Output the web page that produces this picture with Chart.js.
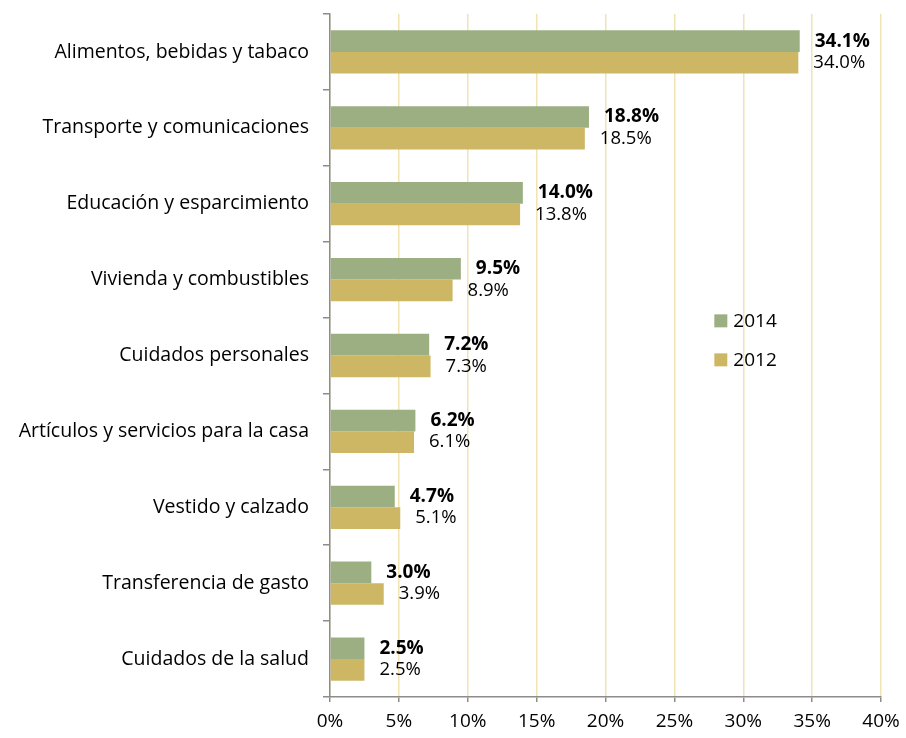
<!DOCTYPE html>
<html>
<head>
<meta charset="utf-8">
<script src="https://cdn.jsdelivr.net/npm/chart.js@4"></script>
<style>
  body { margin: 0; background: #fff; }
  #wrap { width: 906px; height: 738px; }
</style>
</head>
<body>
<div id="wrap"><canvas id="gastoChart"></canvas></div>
<script>
// categorias y valores (%)
var categorias = [
    'Alimentos, bebidas y tabaco',
    'Transporte y comunicaciones',
    'Educación y esparcimiento',
    'Vivienda y combustibles',
    'Cuidados personales',
    'Artículos y servicios para la casa',
    'Vestido y calzado',
    'Transferencia de gasto',
    'Cuidados de la salud'
];
var valores2014 = [34.1, 18.8, 14.0, 9.5, 7.2, 6.2, 4.7, 3.0, 2.5];
var valores2012 = [34.0, 18.5, 13.8, 8.9, 7.3, 6.1, 5.1, 3.9, 2.5];
var ticksX = [0, 5, 10, 15, 20, 25, 30, 35, 40];

var fuente = '"Open Sans", Lato, sans-serif';

// etiquetas de valor al final de cada barra
var etiquetasPlugin = {
    id: 'etiquetas',
    afterDatasetsDraw: function(chart) {
        var ctx = chart.ctx;
        ctx.save();
        ctx.textBaseline = 'middle';
        ctx.textAlign = 'left';
        ctx.fillStyle = '#000';
        chart.data.datasets.forEach(function(ds, i) {
            var meta = chart.getDatasetMeta(i);
            ctx.font = (i === 0 ? 'bold 19px ' : '18.5px ') + fuente;
            meta.data.forEach(function(bar, j) {
                ctx.fillText(ds.data[j].toFixed(1) + '%', bar.x + 15, bar.y);
            });
        });
        ctx.restore();
    }
};

// leyenda dentro del area del grafico
var leyendaPlugin = {
    id: 'leyenda',
    afterDraw: function(chart) {
        var ctx = chart.ctx;
        var x = chart.scales.x.getPixelForValue(27.9);
        var y0 = chart.scales.y.getPixelForValue(3.55);
        ctx.save();
        ctx.font = '19px ' + fuente;
        ctx.textBaseline = 'middle';
        chart.data.datasets.forEach(function(ds, i) {
            var y = y0 + i * 39;
            ctx.fillStyle = ds.backgroundColor;
            ctx.fillRect(x, y - 7, 13, 13);
            ctx.fillStyle = '#000';
            ctx.fillText(ds.label, x + 19, y);
        });
        ctx.restore();
    }
};

new Chart('gastoChart', {
    type: 'bar',
    data: {
        labels: categorias,
        datasets: [{
            label: '2014',
            data: valores2014,
            backgroundColor: '#9BAF82',
            categoryPercentage: 0.57,
            barPercentage: 1.0
        }, {
            label: '2012',
            data: valores2012,
            backgroundColor: '#CDB764',
            categoryPercentage: 0.57,
            barPercentage: 1.0
        }]
    },
    options: {
        indexAxis: 'y',
        responsive: true,
        maintainAspectRatio: false,
        animation: false,
        layout: { padding: { top: 14, right: 25, left: 0, bottom: 0 } },
        plugins: {
            legend: { display: false },
            tooltip: { enabled: false }
        },
        scales: {
            x: {
                min: 0,
                max: 40,
                afterBuildTicks: function(scale) {
                    scale.ticks = ticksX.map(function(v) { return { value: v }; });
                },
                afterFit: function(scale) {
                    scale.height = 41;
                    scale.paddingRight = 0;
                },
                grid: {
                    color: '#F2E3B3',
                    tickColor: '#8C8C8C',
                    tickLength: 5,
                    lineWidth: 1.5
                },
                border: { color: '#8C8C8C', width: 1.5 },
                ticks: {
                    color: '#000',
                    font: { family: fuente, size: 19 },
                    padding: 8,
                    callback: function(v) { return v + '%'; }
                }
            },
            y: {
                afterFit: function(scale) {
                    scale.width = 330;
                    scale.paddingTop = 0;
                    scale.paddingBottom = 0;
                },
                grid: {
                    drawOnChartArea: false,
                    offset: true,
                    tickColor: '#8C8C8C',
                    tickLength: 7,
                    lineWidth: 1.5
                },
                border: { color: '#8C8C8C', width: 1.5 },
                ticks: {
                    color: '#000',
                    font: { family: fuente, size: 19.5 },
                    padding: 14
                }
            }
        }
    },
    plugins: [etiquetasPlugin, leyendaPlugin]
});
</script>
</body>
</html>
